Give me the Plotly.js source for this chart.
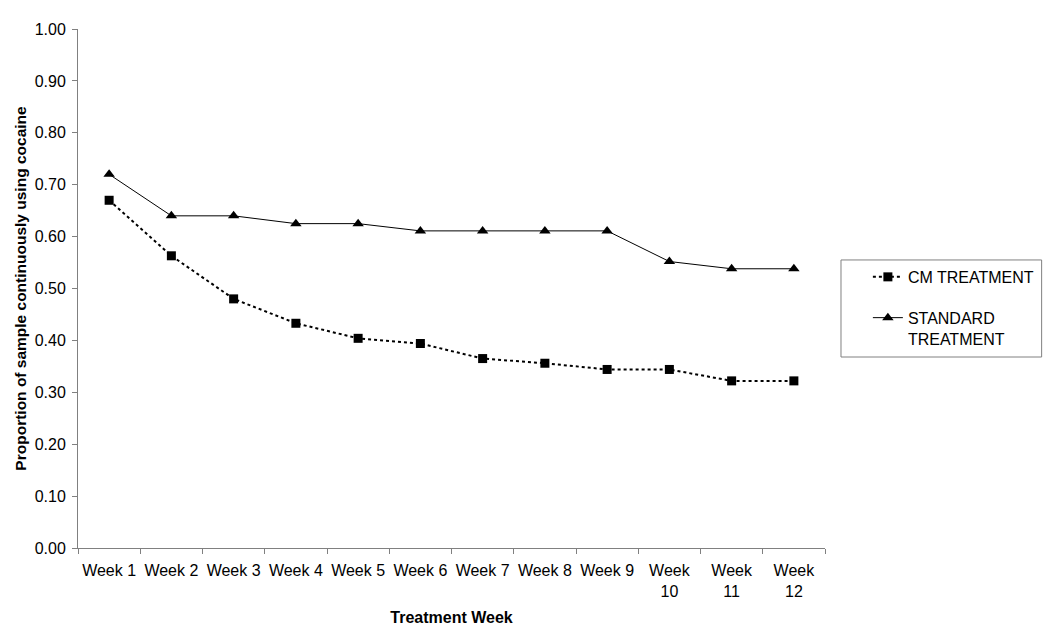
<!DOCTYPE html>
<html>
<head>
<meta charset="utf-8">
<script src="https://cdn.plot.ly/plotly-3.0.1.min.js"></script>
<style>html,body{margin:0;padding:0;background:#fff;}#chart{width:1050px;height:629px;}</style>
</head>
<body>
<div id="chart"></div>
<script>
var weeks = ["Week 1","Week 2","Week 3","Week 4","Week 5","Week 6","Week 7","Week 8","Week 9","Week 10","Week 11","Week 12"];
var weekLabels = ["Week 1","Week 2","Week 3","Week 4","Week 5","Week 6","Week 7","Week 8","Week 9","Week<br>10","Week<br>11","Week<br>12"];
var cmTreatment = [0.67, 0.563, 0.48, 0.433, 0.404, 0.394, 0.365, 0.356, 0.344, 0.344, 0.322, 0.322];
var standardTreatment = [0.72, 0.64, 0.64, 0.625, 0.625, 0.611, 0.611, 0.611, 0.611, 0.552, 0.538, 0.538];

var traces = [
  {x: weeks, y: cmTreatment, name: "CM TREATMENT", legendgroup: "cm", type: "scatter", mode: "lines+markers",
   line: {color: "#000", width: 2, dash: "dot"}, marker: {symbol: "square", size: 9, color: "#000"}},
  {x: weeks, y: standardTreatment, name: "STANDARD<br>TREATMENT", legendgroup: "std", type: "scatter", mode: "lines+markers",
   line: {color: "#000", width: 1}, marker: {symbol: "triangle-up", size: 10, color: "#000"}}
];

var layout = {
  width: 1050, height: 629,
  margin: {l: 78, r: 224, t: 29, b: 81},
  paper_bgcolor: "#fff", plot_bgcolor: "#fff",
  font: {family: "Arial, Liberation Sans, sans-serif", size: 16, color: "#000"},
  showlegend: true,
  legend: {x: 1.056, y: 0.555, xanchor: "left", yanchor: "top", borderwidth: 0, bgcolor: "rgba(0,0,0,0)",
           font: {size: 16}, traceorder: "grouped", tracegroupgap: 17, valign: "top"},
  shapes: [{type: "rect", xref: "paper", yref: "paper", x0: 1.0214, x1: 1.290, y0: 0.368, y1: 0.555,
            line: {color: "#808080", width: 1}, fillcolor: "rgba(0,0,0,0)", layer: "below"}],
  xaxis: {type: "category", tickmode: "array", tickvals: weeks, ticktext: weekLabels,
          tickson: "boundaries", ticks: "outside", ticklen: 5, tickcolor: "#808080", tickangle: 0,
          ticklabelstandoff: 8,
          showline: true, linecolor: "#808080", linewidth: 1, showgrid: false, zeroline: false,
          range: [-0.5, 11.5], automargin: false,
          title: {text: "<b>Treatment Week</b>", font: {size: 16}, standoff: 12}},
  yaxis: {range: [0, 1], dtick: 0.1, tickformat: ".2f", ticks: "outside", ticklen: 5, tickcolor: "#808080",
          ticklabelstandoff: 3,
          showline: true, linecolor: "#808080", linewidth: 1, showgrid: false, zeroline: false, automargin: false,
          title: {text: "<b>Proportion of sample continuously using cocaine</b>", font: {size: 15.5}, standoff: 4}}
};

Plotly.newPlot("chart", traces, layout, {displayModeBar: false, staticPlot: true});
</script>
</body>
</html>
